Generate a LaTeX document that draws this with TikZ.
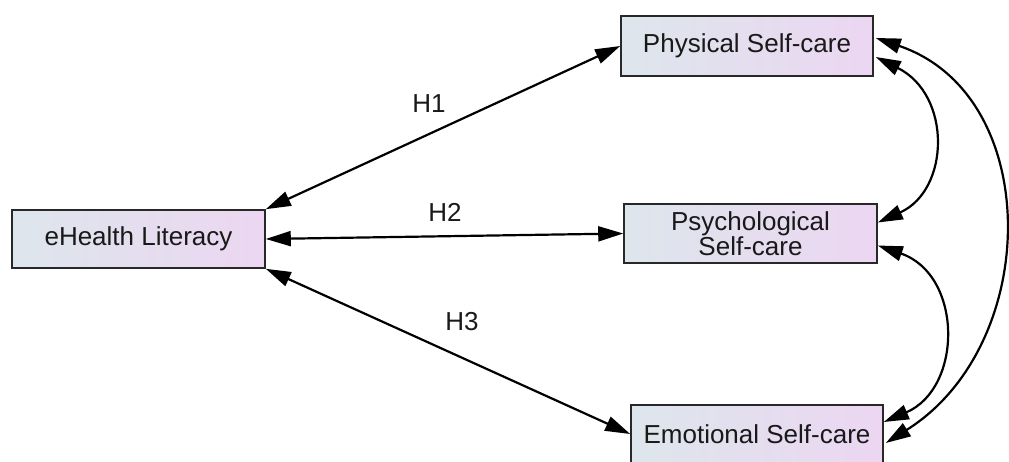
\documentclass[tikz,border=0pt]{standalone}
\usepackage{fontspec}
\setmainfont{Liberation Sans}
\usetikzlibrary{arrows.meta,calc}
\definecolor{boxL}{RGB}{221,230,236}
\definecolor{boxR}{RGB}{236,214,242}
\definecolor{boxB}{RGB}{40,40,40}
\definecolor{txt}{RGB}{25,25,25}
\begin{document}
\begin{tikzpicture}[x=1pt,y=-1pt,
  varbox/.style={draw=boxB,line width=1.6pt,left color=boxL,right color=boxR,
    inner sep=0pt,align=center,text=txt,font=\fontsize{26}{25}\selectfont},
  bi/.style={line width=2.2pt,{Triangle[length=25pt,width=15pt]}-{Triangle[length=25pt,width=15pt]}},
  hlabel/.style={font=\fontsize{26}{25}\selectfont,text=txt,inner sep=0pt}]
\clip (0,0) rectangle (1009,462);
\node[varbox,minimum width=253pt,minimum height=58pt] (e) at (138.5,239) {eHealth Literacy};
\node[varbox,minimum width=252pt,minimum height=60pt] (phys) at (747,46) {Physical Self-care};
\node[varbox,minimum width=253pt,minimum height=59pt] (psy) at (750.5,233.5) {Psychological\\Self-care};
\node[varbox,minimum width=252pt,minimum height=58pt] (emo) at (757,434) {Emotional Self-care};
\draw[bi] (e.north east) -- (phys.west);
\draw[bi] (e.east) -- (psy.west);
\draw[bi] (e.south east) -- (emo.west);
\node[hlabel] (h1) at (429,104) {H1};
\node[hlabel] (h2) at (445,212) {H2};
\node[hlabel] (h3) at (462,322) {H3};
\draw[bi] ($(phys.east)+(2,11)$) .. controls (952,95) and (950,190) .. ($(psy.east)+(0,-11)$);
\draw[bi] ($(phys.east)+(2,-8)$) .. controls (1044,95) and (1042,345) .. ($(emo.east)+(2,9)$);
\draw[bi] ($(psy.east)+(0,12)$) .. controls (963,275) and (963,388) .. ($(emo.east)+(0,-12)$);
\end{tikzpicture}
\end{document}
